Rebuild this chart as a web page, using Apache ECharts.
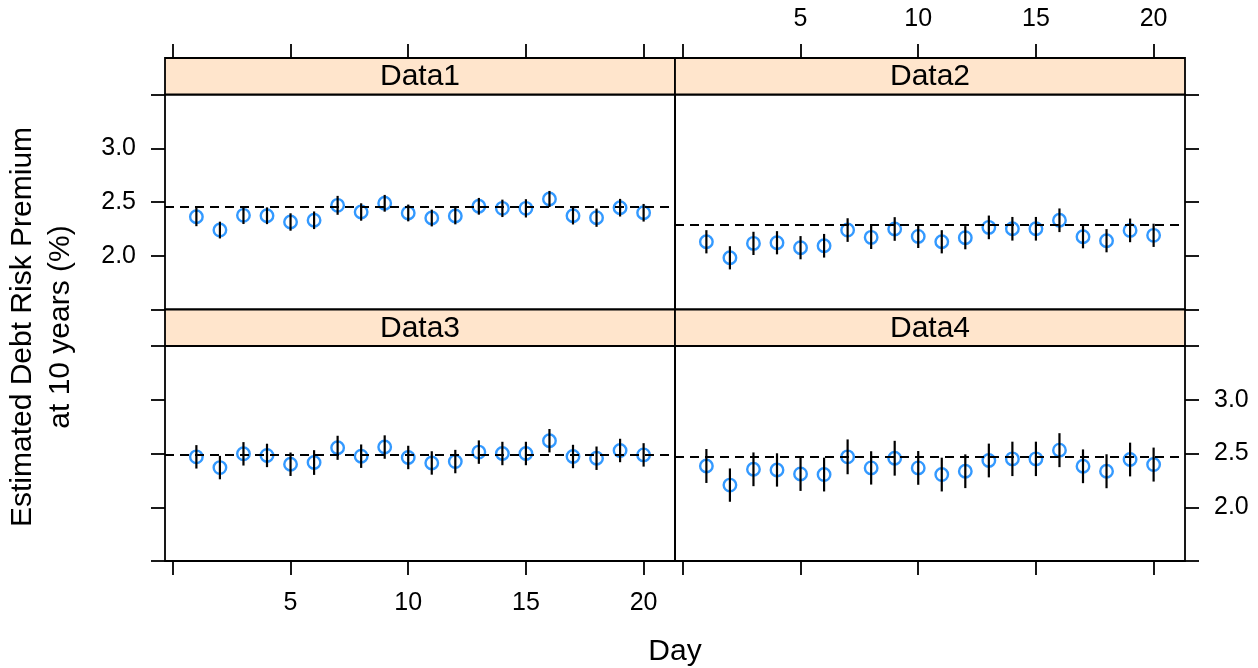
<!DOCTYPE html>
<html>
<head>
<meta charset="utf-8">
<script src="https://cdn.jsdelivr.net/npm/echarts@6/dist/echarts.min.js"></script>
<style>html,body{margin:0;padding:0;background:#fff}#c{width:1258px;height:668px}</style>
</head>
<body>
<div id="c"></div>
<script>
const days = [1,2,3,4,5,6,7,8,9,10,11,12,13,14,15,16,17,18,19,20];
const panelNames = ["Data1","Data2","Data3","Data4"];
const data1 = [2.363,2.239,2.376,2.372,2.314,2.330,2.469,2.407,2.488,2.398,2.351,2.370,2.460,2.441,2.441,2.528,2.372,2.354,2.447,2.400];
const err1  = [0.088,0.078,0.081,0.078,0.081,0.082,0.088,0.081,0.078,0.078,0.078,0.078,0.078,0.081,0.085,0.075,0.081,0.085,0.082,0.082];
const data2 = [2.130,1.981,2.115,2.121,2.075,2.093,2.239,2.171,2.249,2.180,2.130,2.168,2.264,2.251,2.251,2.330,2.177,2.140,2.236,2.190];
const err2  = [0.108,0.108,0.108,0.108,0.108,0.110,0.110,0.108,0.110,0.108,0.108,0.108,0.110,0.110,0.110,0.110,0.108,0.108,0.110,0.108];
const data3 = [2.469,2.369,2.497,2.482,2.400,2.416,2.553,2.475,2.560,2.463,2.412,2.425,2.513,2.500,2.500,2.619,2.472,2.456,2.528,2.487];
const err3  = [0.109,0.109,0.109,0.109,0.109,0.115,0.112,0.109,0.109,0.109,0.109,0.109,0.109,0.109,0.109,0.109,0.109,0.109,0.109,0.109];
const data4 = [2.384,2.206,2.353,2.347,2.310,2.304,2.469,2.366,2.456,2.366,2.304,2.335,2.435,2.450,2.450,2.531,2.381,2.335,2.444,2.397];
const err4  = [0.158,0.155,0.157,0.155,0.158,0.157,0.162,0.155,0.162,0.157,0.157,0.157,0.157,0.160,0.160,0.158,0.157,0.158,0.157,0.158];
const refLines = [2.456, 2.295, 2.490, 2.472];
const xTicks = [0,5,10,15,20];
const xLabels = [5,10,15,20];

const series = [data1,data2,data3,data4];
const errs = [err1,err2,err3,err4];

const FONT = "Liberation Sans, Arial, Helvetica, sans-serif";
const L = 165, W = 510, PH = 215, SH = 36.5;
const tops = [94.5, 94.5, 346, 346];
const lefts = [L, L + W, L, L + W];
const XMIN = -1/3, XMAX = 21 + 1/3;

const grids = [], xAxes = [], yAxes = [], chartSeries = [], graphics = [];
const tickStyle = {show:true, inside:false, length:14, lineStyle:{color:'#000', width:1.8}};
const noLine = {show:false, onZero:false};

for (let i = 0; i < 4; i++) {
  grids.push({left: lefts[i], top: tops[i], width: W, height: PH, show: true,
    borderColor: '#000', borderWidth: 1.8, backgroundColor: 'transparent', containLabel: false});
  const isTop = i < 2, isLeft = (i % 2 === 0);
  const bx = xAxes.length;
  xAxes.push({type:'value', gridIndex:i, position:'bottom', min:XMIN, max:XMAX,
    axisLine:noLine, splitLine:{show:false},
    axisTick: isTop ? {show:false} : Object.assign({customValues: xTicks}, tickStyle),
    axisLabel: (i === 2) ? {show:true, customValues:xLabels, margin:30, fontSize:25, color:'#000', fontFamily:FONT} : {show:false}
  });
  if (isTop) {
    xAxes.push({type:'value', gridIndex:i, position:'top', offset:SH, min:XMIN, max:XMAX,
      axisLine:noLine, splitLine:{show:false},
      axisTick: Object.assign({customValues: xTicks}, tickStyle),
      axisLabel: (i === 1) ? {show:true, customValues:xLabels, margin:26, fontSize:25, color:'#000', fontFamily:FONT} : {show:false}
    });
  }
  const yi = yAxes.length;
  yAxes.push({type:'value', gridIndex:i, position: isLeft ? 'left' : 'right', min:1.5, max:3.5, interval:0.5,
    axisLine:noLine, splitLine:{show:false},
    axisTick: tickStyle,
    axisLabel: (i === 0 || i === 3) ? {show:true, margin:29, fontSize:25, color:'#000', fontFamily:FONT,
      formatter: v => (v < 1.75 || v > 3.25) ? '' : v.toFixed(1)} : {show:false}
  });
  chartSeries.push({
    type:'scatter', xAxisIndex:bx, yAxisIndex:yi, z:2,
    data: days.map((d,k)=>[d, series[i][k]]),
    symbol:'circle', symbolSize:12.5,
    itemStyle:{color:'rgba(0,0,0,0)', borderColor:'#0080ff', borderWidth:2.4},
    silent:true,
    markLine:{silent:true, symbol:['none','none'], label:{show:false},
      lineStyle:{color:'#000', width:2, type:[9,6]},
      data:[{yAxis: refLines[i]}]}
  });
  chartSeries.push({
    type:'custom', xAxisIndex:bx, yAxisIndex:yi, z:3, silent:true,
    data: days.map((d,k)=>[d, series[i][k]-errs[i][k], series[i][k]+errs[i][k]]),
    encode:{x:0, y:[1,2]},
    renderItem: function(params, api){
      const p1 = api.coord([api.value(0), api.value(1)]);
      const p2 = api.coord([api.value(0), api.value(2)]);
      return {type:'line', shape:{x1:p1[0], y1:p1[1], x2:p2[0], y2:p2[1]}, style:{stroke:'#000', lineWidth:2.2}};
    }
  });
  graphics.push({type:'rect', shape:{x:lefts[i], y:tops[i]-SH, width:W, height:SH},
    style:{fill:'#FFE5CC', stroke:'#000', lineWidth:1.8}, z:10});
  graphics.push({type:'text', x:lefts[i]+W/2, y:tops[i]-SH/2+0.5,
    style:{text:panelNames[i], fontSize:30, fontFamily:FONT, fill:'#000', textAlign:'center', textVerticalAlign:'middle'}, z:11});
}
graphics.push({type:'text', x:675, y:652,
  style:{text:'Day', fontSize:30, fontFamily:FONT, fill:'#000', textAlign:'center', textVerticalAlign:'middle'}});
graphics.push({type:'text', x:23, y:327, rotation:Math.PI/2,
  style:{text:'Estimated Debt Risk Premium', fontSize:30, fontFamily:FONT, fill:'#000', textAlign:'center', textVerticalAlign:'middle'}});
graphics.push({type:'text', x:61, y:327, rotation:Math.PI/2,
  style:{text:'at 10 years (%)', fontSize:30, fontFamily:FONT, fill:'#000', textAlign:'center', textVerticalAlign:'middle'}});

const chart = echarts.init(document.getElementById('c'), null, {renderer:'canvas'});
chart.setOption({
  animation:false,
  backgroundColor:'#fff',
  grid: grids, xAxis: xAxes, yAxis: yAxes, series: chartSeries, graphic: graphics
});
</script>
</body>
</html>
